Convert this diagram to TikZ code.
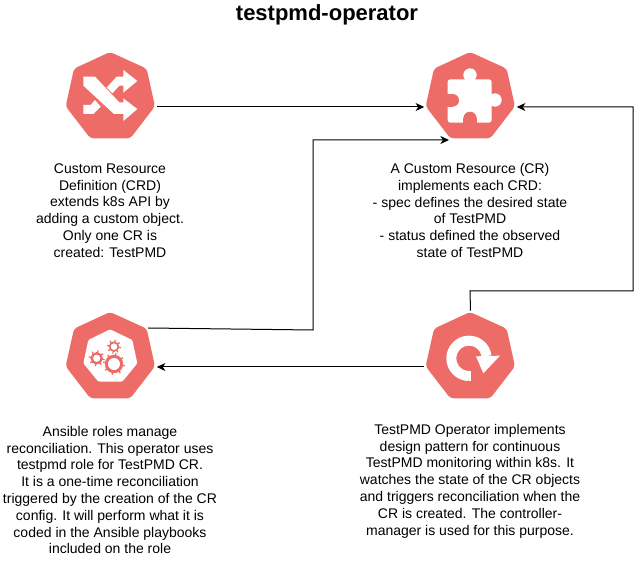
\documentclass[tikz,border=0pt]{standalone}
\usepackage{fontspec}
\setmainfont{Liberation Sans}
\usepackage{tikz}
\usetikzlibrary{arrows.meta}
\definecolor{kubered}{HTML}{EE6C68}
\newcommand{\heptagonshape}{%
  \fill[kubered,rounded corners=2.5pt] (180,36) -- (290,86) -- (315,199) -- (241,295) -- (121,295) -- (47,199) -- (72,86) -- cycle;
}
\newcommand{\gearshape}[5]{%
  \draw[kubered,line width=#4*0.25pt] (#1,#2) circle (#3);
  \foreach \a in {0,45,...,315}
    \draw[kubered,line width=0.9pt,shift={(#1,#2)}] (\a+10:#3) -- (\a+10:#5);
}
\tikzset{
  iconbox/.style={minimum width=69pt,minimum height=84pt,inner sep=0pt},
  notebox/.style={inner sep=0.75pt,align=center,font=\fontsize{10.5}{12.6}\selectfont},
  wire/.style={draw=black,line width=0.75pt,-{Stealth[length=6.5pt,width=6pt,inset=2pt]}},
  glyph/.style={x=0.25pt,y=0.25pt}
}

\begin{document}
\begin{tikzpicture}[x=0.75pt,y=0.75pt,yscale=-1,xscale=1]
\useasboundingbox (0,0) rectangle (643,580);

%Shape: Shuffle icon
\begin{scope}[shift={(50,40)},glyph]
\heptagonshape
\fill[white] (100,110) -- (135,110) -- (208,187) -- (220,187) -- (220,175) -- (262,207) -- (220,243) -- (220,222) -- (192,222) -- (100,137) -- cycle;
\fill[white] (100,195) -- (122,195) -- (135,180) -- (152,200) -- (130,222) -- (100,222) -- cycle;
\fill[white] (170,143) -- (200,110) -- (220,110) -- (220,90) -- (262,123) -- (220,158) -- (220,137) -- (208,137) -- (187,160) -- cycle;
\end{scope}

%Shape: Puzzle icon
\begin{scope}[shift={(410,40)},glyph]
\heptagonshape
\fill[white,rounded corners=2pt] (113,118) rectangle (245,248);
\fill[white] (180,105) circle (20);
\fill[white] (255,180) circle (20);
\fill[kubered] (128,181) circle (19);
\fill[kubered] (180,235) circle (20);
\fill[kubered] (160,235) rectangle (200,249);
\fill[kubered] (112,162) rectangle (128,200);
\end{scope}

%Shape: Gears icon
\begin{scope}[shift={(50,300)},glyph]
\heptagonshape
\fill[white,rounded corners=1pt] (180,88) -- (247,120) -- (262,190) -- (217,245) -- (145,245) -- (100,190) -- (115,120) -- cycle;
\gearshape{140}{175}{15}{7}{24}
\gearshape{192}{140}{13}{5}{21}
\gearshape{192}{192}{23}{9}{33}
\end{scope}

%Shape: Refresh icon
\begin{scope}[shift={(410,300)},glyph]
\heptagonshape
\draw[white,line width=7.5pt] (177,228) arc (90:353:53);
\fill[white] (198,169) -- (270,167) -- (220,220) -- cycle;
\fill[white] (177,213) rectangle (183,243);
\end{scope}

% Icon boxes
\node[iconbox] (crd) at (110.5,107) {};
\node[iconbox] (cr) at (470.5,107) {};
\node[iconbox] (roles) at (110.5,367) {};
\node[iconbox] (operator) at (470.5,367) {};
\coordinate (rolesout) at (148,328);
\coordinate (crin) at (449,140);

% Connectors
\draw[wire] (crd.east) -- (cr.west);
\draw[wire] (rolesout) -- (313,330) -- (313,140) -- (crin);
\draw[wire] (operator.north) -- (470,291) -- (633,291) -- (633,107) -- (cr.east);
\draw[wire] (operator.west) -- (roles.east);

% Text Node
\node[inner sep=0.75pt,font=\fontsize{16.5}{20}\selectfont\bfseries] (title) at (327,15) {testpmd-operator};
% Text Node
\node[notebox] (crdtext) at (110,210.5) {Custom Resource\\Definition (CRD)\\extends k8s API by\\adding a custom object.\\Only one CR is\\created: TestPMD};
% Text Node
\node[notebox] (crtext) at (470,210.5) {A Custom Resource (CR)\\implements each CRD:\\- spec defines the desired state\\of TestPMD\\- status defined the observed\\state of TestPMD};
% Text Node
\node[notebox] (rolestext) at (110,490) {Ansible roles manage\\reconciliation. This operator uses\\testpmd role for TestPMD CR.\\It is a one-time reconciliation\\triggered by the creation of the CR\\config. It will perform what it is\\coded in the Ansible playbooks\\included on the role};
% Text Node
\node[notebox] (operatortext) at (470,481) {TestPMD Operator implements\\design pattern for continuous\\TestPMD monitoring within k8s. It\\watches the state of the CR objects\\and triggers reconciliation when the\\CR is created. The controller-\\manager is used for this purpose.};

\end{tikzpicture}
\end{document}
